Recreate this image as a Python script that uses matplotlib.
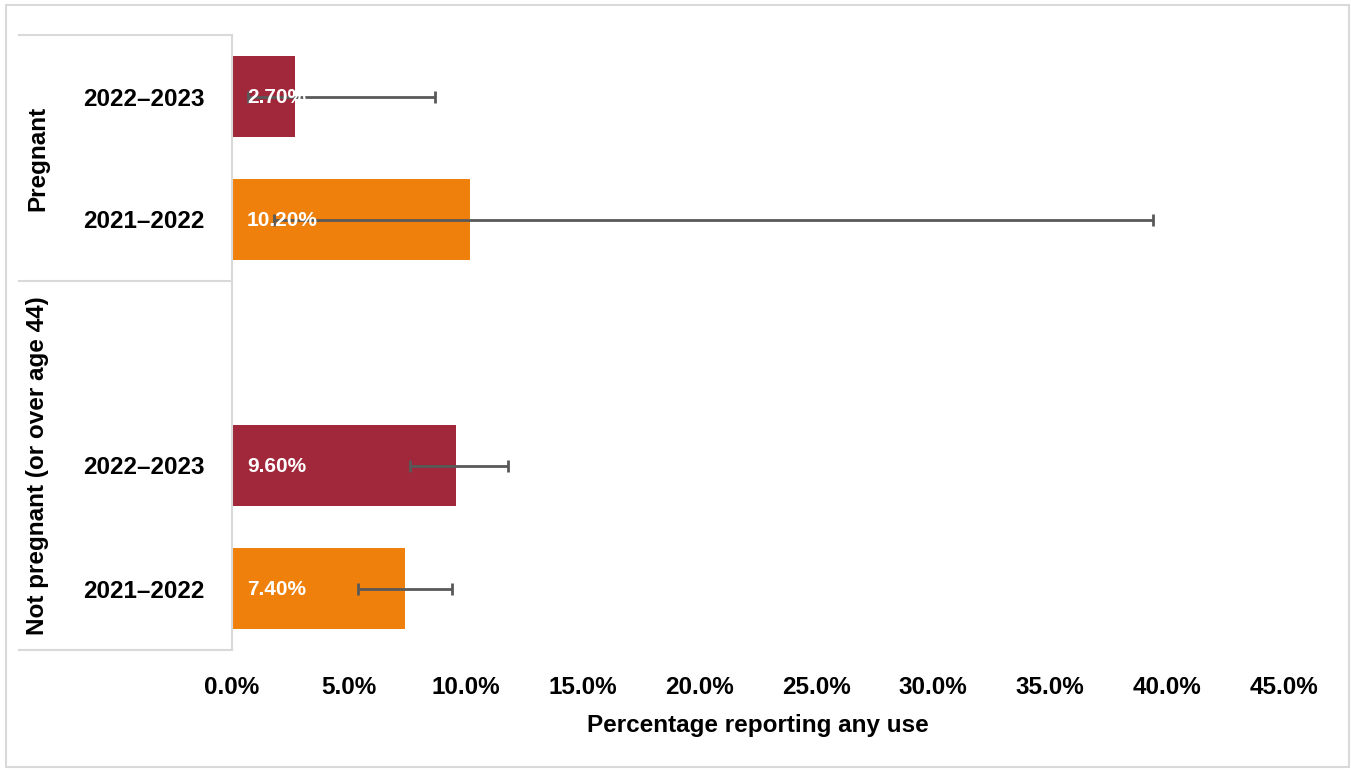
import matplotlib
matplotlib.use("Agg")
import matplotlib.pyplot as plt
from matplotlib.lines import Line2D
from matplotlib.patches import Rectangle

plt.rcParams['font.family'] = ['Liberation Sans', 'DejaVu Sans']

# Data (top to bottom)
groups = ["Pregnant", "Not pregnant (or over age 44)"]
periods = ["2022\u20132023", "2021\u20132022", "2022\u20132023", "2021\u20132022"]
values = [2.7, 10.2, 9.6, 7.4]
ci_low = [0.7, 1.8, 7.6, 5.4]
ci_high = [8.7, 39.4, 11.8, 9.4]
x_ticks = [0, 5, 10, 15, 20, 25, 30, 35, 40, 45]
x_label = "Percentage reporting any use"

RED = "#A0283A"
ORANGE = "#EF800B"
bar_colors = [RED, ORANGE, RED, ORANGE]
GRID = "#D9D9D9"
ERR = "#595959"

W, H = 1351, 770
fig = plt.figure(figsize=(W / 100, H / 100), dpi=100)

# axes placement in pixel terms
ax_left, ax_right = 232, 1283.5
ax_top, ax_bot = 35, 650
ax = fig.add_axes([ax_left / W, 1 - ax_bot / H, (ax_right - ax_left) / W, (ax_bot - ax_top) / H])

# slot positions: two for Pregnant, three for Not pregnant (top slot empty)
ypos = [4, 3, 1, 0]
ax.barh(ypos, values, height=0.66, color=bar_colors, zorder=2)

err_lo = [v - l for v, l in zip(values, ci_low)]
err_hi = [h - v for v, h in zip(values, ci_high)]
ax.errorbar(values, ypos, xerr=[err_lo, err_hi], fmt='none', ecolor=ERR,
            elinewidth=2, capsize=4.3, capthick=2, zorder=3)

for y, v in zip(ypos, values):
    ax.annotate(f"{v:.2f}%", xy=(0, y), xytext=(10.8, -1), textcoords='offset points',
                ha='left', va='center', color='white', fontsize=15,
                fontweight='bold', zorder=4)

ax.set_xlim(0, 45)
ax.set_ylim(-0.5, 4.5)
ax.set_xticks(x_ticks)
ax.set_xticklabels([f"{t:.1f}%" for t in x_ticks], fontsize=17.5, fontweight='bold')
ax.set_yticks(ypos)
ax.set_yticklabels(periods, fontsize=17.5, fontweight='bold')
ax.tick_params(axis='x', length=0, pad=18.5)
ax.tick_params(axis='y', length=0, pad=19.5)
ax.set_xlabel(x_label, fontsize=17.5, fontweight='bold', labelpad=11)

for s in ['top', 'right', 'bottom']:
    ax.spines[s].set_visible(False)
ax.spines['left'].set_color(GRID)
ax.spines['left'].set_linewidth(1.5)

# group separators on the category axis
for yp in (ax_top, 281, ax_bot):
    fig.add_artist(Line2D([19 / W, ax_left / W], [1 - yp / H, 1 - yp / H],
                          color=GRID, lw=1.5, transform=fig.transFigure))

fig.text(38 / W, 1 - 158 / H, groups[0], rotation=90, ha='center', va='center',
         fontsize=17.5, fontweight='bold')
fig.text(38 / W, 1 - 465.5 / H, groups[1], rotation=90, ha='center', va='center',
         fontsize=17.5, fontweight='bold')

# outer frame
fig.add_artist(Rectangle((6 / W, 1 - 767 / H), (1349 - 6) / W, (767 - 5) / H,
                         fill=False, edgecolor=GRID, lw=1.5, transform=fig.transFigure))

fig.savefig("out.png", dpi=100, facecolor='white')
